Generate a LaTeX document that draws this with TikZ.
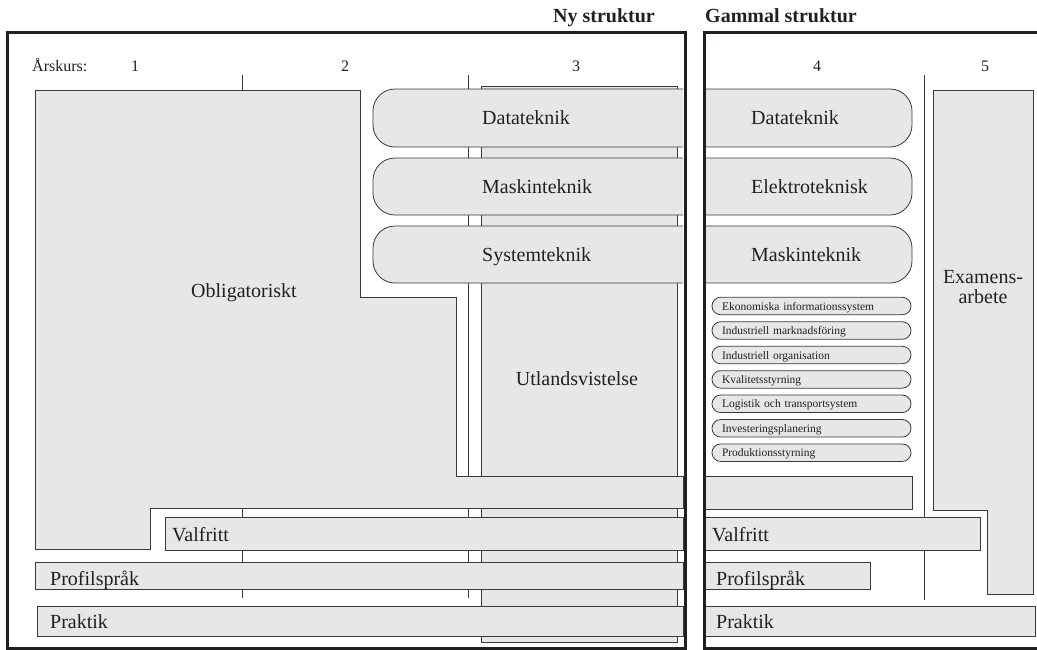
\documentclass[tikz,border=0pt]{standalone}
\usepackage{fontspec}
\setmainfont{Liberation Serif}
\usetikzlibrary{positioning}

\definecolor{boxfill}{HTML}{E6E7E8}
\definecolor{boxline}{HTML}{3A3A3A}
\definecolor{ink}{HTML}{231F20}

\begin{document}
\begin{tikzpicture}[x=1pt,y=-1pt,
    box/.style={draw=boxline,fill=boxfill,line width=0.8pt},
    pill/.style={box,rounded corners=22pt},
    divider/.style={draw=boxline,line width=0.8pt},
    frame/.style={draw=ink,line width=3pt},
    label/.style={text=ink,inner sep=0pt,anchor=base west,font=\fontsize{20}{20}\selectfont},
    year/.style={text=ink,inner sep=0pt,anchor=base,font=\fontsize{16}{16}\selectfont},
    title/.style={text=ink,inner sep=0pt,font=\fontsize{20}{20}\selectfont\bfseries},
    smallpill/.style={box,rounded corners=8.7pt,minimum width=199pt,minimum height=17.5pt,
        text width=179pt,align=left,inner xsep=10pt,inner ysep=0pt,text height=8.5pt,text depth=0.5pt,
        text=ink,font=\fontsize{11.5}{12}\selectfont}]

    \useasboundingbox (0,0) rectangle (1037,649);

    % rubriker och årskurser
    \node[title,anchor=base east] (ny) at (655,22) {Ny struktur};
    \node[title,anchor=base west] (gammal) at (705,22) {Gammal struktur};
    \node[year,anchor=base west] (arskurs) at (32,71) {Årskurs:};
    \node[year] (ak1) at (135,71) {1};
    \node[year] (ak2) at (345,71) {2};
    \node[year] (ak3) at (576,71) {3};
    \node[year] (ak4) at (817,71) {4};
    \node[year] (ak5) at (985,71) {5};

    % gränser mellan årskurserna
    \draw[divider] (242,75) -- (242,598);
    \draw[divider] (468,75) -- (468,598);
    \draw[divider] (924,75) -- (924,600);

    % ny struktur
    \draw[box] (481,86) rectangle (677,642);
    \draw[box] (35,90) -- (360,90) -- (360,297) -- (456,297) -- (456,476) -- (683,476)
        -- (683,508) -- (150,508) -- (150,549) -- (35,549) -- cycle;
    \draw[pill] (683,89) -- (373,89) -- (373,147) -- (683,147);
    \draw[pill] (683,158) -- (373,158) -- (373,215) -- (683,215);
    \draw[pill] (683,226) -- (373,226) -- (373,283) -- (683,283);
    \draw[box] (165,517) rectangle (683,550);
    \draw[box] (35,562) rectangle (683,589);
    \draw[box] (37,606) rectangle (683,636);

    \node[text=ink,inner sep=0pt,anchor=base,font=\fontsize{20}{20}\selectfont] (oblig) at (244,297) {Obligatoriskt};
    \node[text=ink,inner sep=0pt,anchor=base,font=\fontsize{20}{20}\selectfont] (utland) at (577,385) {Utlandsvistelse};
    \node[label] (datany) at (482,124.5) {Datateknik};
    \node[label] (maskny) at (482,193) {Maskinteknik};
    \node[label] (systny) at (482,261) {Systemteknik};
    \node[label] (valny) at (172,541) {Valfritt};
    \node[label] (profny) at (50,585) {Profilspråk};
    \node[label] (prakny) at (50,628) {Praktik};

    % gammal struktur
    \draw[box] (933,90) -- (1033,90) -- (1033,594) -- (987,594) -- (987,510) -- (933,510) -- cycle;
    \draw[pill] (705,89) -- (912,89) -- (912,147) -- (705,147);
    \draw[pill] (705,158) -- (912,158) -- (912,215) -- (705,215);
    \draw[pill] (705,226) -- (912,226) -- (912,283) -- (705,283);
    \draw[box] (705,476) rectangle (912,509);
    \draw[box] (705,517) rectangle (980,550);
    \draw[box] (705,562) rectangle (870,589);
    \draw[box] (705,606) rectangle (1035,636);

    \node[label] (datagl) at (751,124.5) {Datateknik};
    \node[label] (elekgl) at (751,193) {Elektroteknisk};
    \node[label] (maskgl) at (751,261) {Maskinteknik};
    \node[text=ink,inner sep=0pt,anchor=north,align=center,font=\fontsize{20}{20}\selectfont] (exjobb) at (983,270) {Examens-\\arbete};
    \node[label] (valgl) at (712,541) {Valfritt};
    \node[label] (profgl) at (716,585) {Profilspråk};
    \node[label] (prakgl) at (716,628) {Praktik};

    \node[smallpill] (eko) at (811.5,306) {Ekonomiska informationssystem};
    \node[smallpill] (mark) at (811.5,330.5) {Industriell marknadsföring};
    \node[smallpill] (org) at (811.5,355) {Industriell organisation};
    \node[smallpill] (kval) at (811.5,379.4) {Kvalitetsstyrning};
    \node[smallpill] (log) at (811.5,403.8) {Logistik och transportsystem};
    \node[smallpill] (inv) at (811.5,428.3) {Investeringsplanering};
    \node[smallpill] (prod) at (811.5,452.7) {Produktionsstyrning};

    % ramar
    \draw[frame] (7,32) rectangle (685,648);
    \draw[frame] (1045,32) -- (704,32) -- (704,648) -- (1045,648);
\end{tikzpicture}
\end{document}
